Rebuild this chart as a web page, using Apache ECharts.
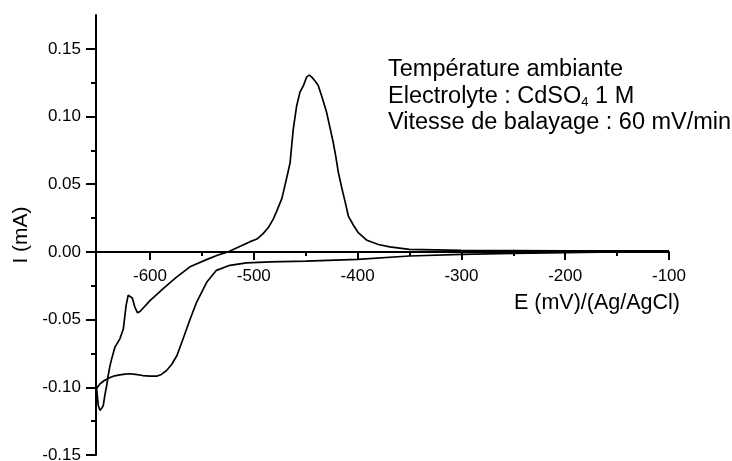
<!DOCTYPE html>
<html>
<head>
<meta charset="utf-8">
<script src="https://cdn.jsdelivr.net/npm/echarts@6/dist/echarts.min.js"></script>
<style>
  html, body { margin: 0; padding: 0; background: #fff; }
  #chart { width: 732px; height: 461px; }
</style>
</head>
<body>
<div id="chart"></div>
<script>
// Cathodic (forward) sweep: from -100 mV towards -651 mV
const forwardE = [-100, -150, -200, -250, -300, -350, -400, -450, -484, -507, -523, -536, -545, -555, -561, -568, -574, -579, -584, -589, -593, -600, -607, -614, -619, -624, -629, -634, -639, -644, -648, -651.4];
const forwardI = [0.0005, 0.0000, -0.0005, -0.0010, -0.0018, -0.0030, -0.0055, -0.0068, -0.0074, -0.0081, -0.0099, -0.0136, -0.022, -0.037, -0.049, -0.064, -0.0765, -0.083, -0.0876, -0.0905, -0.0917, -0.0918, -0.0913, -0.0905, -0.0900, -0.0902, -0.0908, -0.0915, -0.0930, -0.0950, -0.0974, -0.1006];

// Anodic (reverse) sweep: from -651 mV back to -100 mV
const reverseE = [-651.4, -650.5, -649.8, -648.2, -646.5, -645, -643.5, -641.7, -640.2, -638.5, -636.9, -633.7, -628.9, -625.7, -623, -621, -619.3, -617, -614.5, -612, -609.6, -600, -587, -575, -561.5, -545, -535, -525, -512, -504, -497, -491, -486, -481, -478, -473, -470, -467, -465, -462, -460, -458.7, -455.5, -452.3, -449, -446.5, -444.3, -441, -437.9, -434.6, -430, -426.6, -423.5, -420.8, -418.6, -415.3, -412, -408.9, -404, -399.3, -391, -380, -369, -350, -300, -250, -200, -150, -100];
const reverseI = [-0.1006, -0.108, -0.1135, -0.117, -0.1155, -0.1135, -0.106, -0.0987, -0.091, -0.084, -0.079, -0.0703, -0.064, -0.057, -0.0395, -0.032, -0.031, -0.034, -0.041, -0.045, -0.044, -0.036, -0.027, -0.019, -0.011, -0.0055, -0.0025, 0.0, 0.0045, 0.0074, 0.0095, 0.0135, 0.018, 0.0246, 0.030, 0.0394, 0.049, 0.059, 0.066, 0.0906, 0.101, 0.1078, 0.118, 0.1226, 0.1293, 0.1306, 0.1293, 0.1263, 0.123, 0.1152, 0.1036, 0.0918, 0.081, 0.0697, 0.059, 0.0475, 0.037, 0.0265, 0.0197, 0.0142, 0.0086, 0.0055, 0.0037, 0.0019, 0.0012, 0.0010, 0.0008, 0.0008, 0.0008];

// Axis ticks
const xMajorTicks = [-600, -500, -400, -300, -200, -100];
const xMinorTicks = [-550, -450, -350, -250, -150];
const yMajorTicks = [-0.15, -0.10, -0.05, 0.00, 0.05, 0.10, 0.15];
const yMinorTicks = [-0.125, -0.075, -0.025, 0.025, 0.075, 0.125];

const xTitle = 'E (mV)/(Ag/AgCl)';
const yTitle = 'I (mA)';
const noteLines = ['Température ambiante', 'Electrolyte : CdSO{sub|4} 1 M', 'Vitesse de balayage : 60 mV/min'];

const FONT = '"Liberation Sans", Arial, sans-serif';
const X_MIN = -652, X_MAX = -100, Y_MIN = -0.15, Y_MAX = 0.175;

const zip = (a, b) => a.map((v, i) => [v, b[i]]);

const GRID_LEFT = 96, GRID_RIGHT = 63, GRID_TOP = 15, GRID_H = 440;
// height of the upper part of the plot, down to the I = 0 line (x axis sits there)
const ZERO_H = GRID_H * (Y_MAX - 0) / (Y_MAX - Y_MIN);

const chart = echarts.init(document.getElementById('chart'), null, { renderer: 'canvas' });

const lineStyle = { color: '#000', width: 1.7 };
const tickStyle = { color: '#000', width: 2 };

chart.setOption({
  animation: false,
  backgroundColor: '#fff',
  grid: [
    { left: GRID_LEFT, right: GRID_RIGHT, top: GRID_TOP, height: GRID_H, containLabel: false, outerBoundsMode: 'none' },
    { left: GRID_LEFT, right: GRID_RIGHT, top: GRID_TOP, height: ZERO_H, containLabel: false, outerBoundsMode: 'none' }
  ],
  xAxis: [
    { type: 'value', gridIndex: 0, min: X_MIN, max: X_MAX, show: false },
    {
      type: 'value', gridIndex: 1, min: X_MIN, max: X_MAX, position: 'bottom',
      axisLine: { show: true, onZero: false, lineStyle: tickStyle },
      axisTick: { show: true, inside: false, length: 8, customValues: xMajorTicks, lineStyle: tickStyle },
      axisLabel: { show: true, customValues: xMajorTicks, margin: 16, color: '#000', fontSize: 17, fontFamily: FONT,
        formatter: v => String(Math.round(v)) },
      splitLine: { show: false }
    },
    {
      type: 'value', gridIndex: 1, min: X_MIN, max: X_MAX, position: 'bottom',
      axisLine: { show: false, onZero: false },
      axisTick: { show: true, inside: false, length: 4, customValues: xMinorTicks, lineStyle: tickStyle },
      axisLabel: { show: false },
      splitLine: { show: false }
    }
  ],
  yAxis: [
    {
      type: 'value', gridIndex: 0, min: Y_MIN, max: Y_MAX, position: 'left',
      name: yTitle, nameLocation: 'middle', nameGap: 63, nameRotate: 90,
      nameTextStyle: { color: '#000', fontSize: 21, fontFamily: FONT },
      axisLine: { show: true, onZero: false, lineStyle: tickStyle },
      axisTick: { show: true, inside: false, length: 10, customValues: yMajorTicks, lineStyle: tickStyle },
      axisLabel: { show: true, customValues: yMajorTicks, margin: 15, color: '#000', fontSize: 17, fontFamily: FONT,
        formatter: v => v.toFixed(2) },
      splitLine: { show: false }
    },
    {
      type: 'value', gridIndex: 0, min: Y_MIN, max: Y_MAX, position: 'left',
      axisLine: { show: false, onZero: false },
      axisTick: { show: true, inside: false, length: 5, customValues: yMinorTicks, lineStyle: tickStyle },
      axisLabel: { show: false },
      splitLine: { show: false }
    },
    { type: 'value', gridIndex: 1, min: 0, max: Y_MAX, show: false }
  ],
  series: [
    {
      type: 'line', xAxisIndex: 0, yAxisIndex: 0, showSymbol: false, symbol: 'none',
      data: zip(forwardE, forwardI), lineStyle, clip: false, z: 3
    },
    {
      type: 'line', xAxisIndex: 0, yAxisIndex: 0, showSymbol: false, symbol: 'none',
      data: zip(reverseE, reverseI), lineStyle, clip: false, z: 3
    }
  ],
  graphic: [
    {
      type: 'text', x: 597, y: 303,
      style: { text: xTitle, fill: '#000', fontSize: 21.5, fontFamily: FONT, align: 'center', verticalAlign: 'middle' }
    },
    ...noteLines.map((t, i) => ({
      type: 'text', x: 388, y: [70, 97, 123][i],
      style: {
        text: t, fill: '#000', fontSize: 23.5, fontFamily: FONT, align: 'left', verticalAlign: 'middle', lineHeight: 27,
        rich: { sub: { fontSize: 13, fontFamily: FONT, fill: '#000', padding: [10, 0, 0, 0], lineHeight: 13 } }
      }
    }))
  ]
});
</script>
</body>
</html>
